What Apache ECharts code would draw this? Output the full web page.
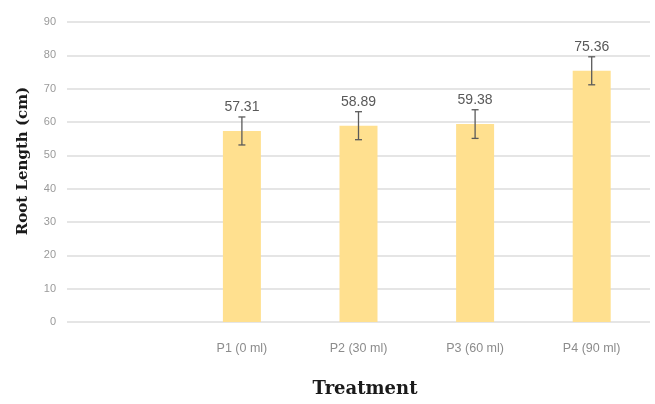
<!DOCTYPE html>
<html><head><meta charset="utf-8">
<script src="https://cdn.jsdelivr.net/npm/echarts@6/dist/echarts.min.js"></script>
<style>html,body{margin:0;padding:0;background:#fff}#c{width:655px;height:404px}</style>
</head><body><div id="c"></div>
<script>
const categories = ["", "P1 (0 ml)", "P2 (30 ml)", "P3 (60 ml)", "P4 (90 ml)"];
const values = [null, 57.31, 58.89, 59.38, 75.36];
const errors = [null, 4.2, 4.2, 4.3, 4.2];
const yTicks = [0, 10, 20, 30, 40, 50, 60, 70, 80, 90];
const xTitle = "Treatment";
const yTitle = "Root Length (cm)";

const errData = categories.map((c, i) => values[i] == null ? null : [i, values[i], errors[i]]).filter(d => d);

const chart = echarts.init(document.getElementById('c'));
chart.setOption({
  animation: false,
  grid: {left: 67, right: 5, top: 22, bottom: 82},
  xAxis: {
    type: 'category', data: categories,
    axisLine: {show: false}, axisTick: {show: false},
    axisLabel: {color: '#8c8c8c', fontSize: 12.5, fontFamily: 'Liberation Sans', margin: 20}
  },
  yAxis: {
    type: 'value', min: yTicks[0], max: yTicks[yTicks.length - 1], interval: 10,
    axisLine: {show: false}, axisTick: {show: false},
    axisLabel: {color: '#9a9a9a', fontSize: 11, fontFamily: 'Liberation Sans', margin: 11},
    splitLine: {lineStyle: {color: '#dcdcdc', width: 1.5}}
  },
  graphic: [
    {type: 'text', x: 365, y: 389, style: {text: xTitle, font: 'bold 18px DejaVu Serif', fill: '#1a1a1a', textAlign: 'center', textVerticalAlign: 'middle'}},
    {type: 'text', x: 23, y: 161, rotation: Math.PI / 2, style: {text: yTitle, font: 'bold 15px DejaVu Serif', fill: '#1a1a1a', textAlign: 'center', textVerticalAlign: 'middle'}}
  ],
  series: [
    {type: 'bar', data: values, barWidth: 38, itemStyle: {color: '#FFE08F'}},
    {
      type: 'custom', data: errData, z: 10,
      renderItem: function (params, api) {
        const x = api.value(0), v = api.value(1), e = api.value(2);
        const top = api.coord([x, v + e]);
        const bot = api.coord([x, v - e]);
        const cap = 3.5;
        const st = {stroke: '#5a5a5a', lineWidth: 1.3};
        return {type: 'group', children: [
          {type: 'line', shape: {x1: top[0], y1: top[1], x2: bot[0], y2: bot[1]}, style: st},
          {type: 'line', shape: {x1: top[0] - cap, y1: top[1], x2: top[0] + cap, y2: top[1]}, style: st},
          {type: 'line', shape: {x1: bot[0] - cap, y1: bot[1], x2: bot[0] + cap, y2: bot[1]}, style: st},
          {type: 'text', style: {text: v.toFixed(2), x: top[0], y: top[1] - 3, textAlign: 'center', textVerticalAlign: 'bottom',
            fill: '#595959', font: '14px Liberation Sans'}}
        ]};
      }
    }
  ]
});
</script></body></html>
